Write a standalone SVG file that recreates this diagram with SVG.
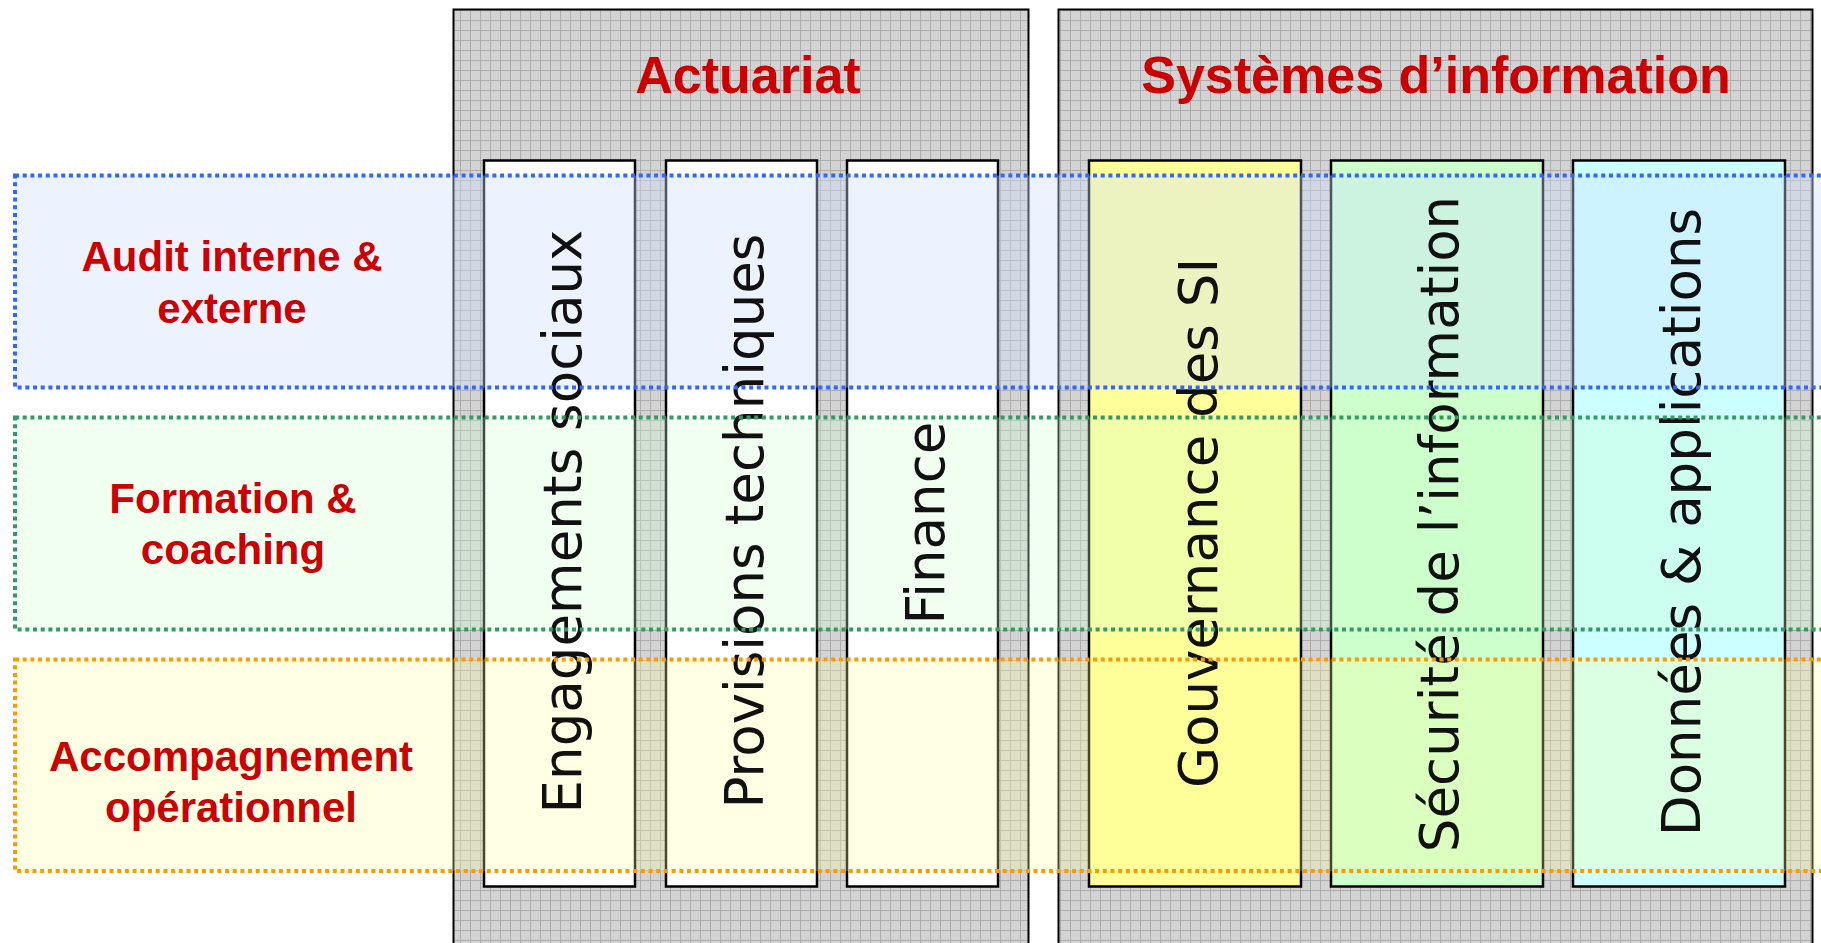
<svg xmlns="http://www.w3.org/2000/svg" width="1821" height="943" viewBox="0 0 1821 943">
  <defs>
    <pattern id="grid" x="0" y="0" width="10" height="10" patternUnits="userSpaceOnUse">
      <rect width="10" height="10" fill="#d3d3d3"/>
      <path d="M0 0.5H10M0.5 0V10" stroke="#adadad" stroke-width="1" fill="none"/>
    </pattern>
    <style>
      .panel { fill: url(#grid); stroke: #000; stroke-width: 2; }
      .col { stroke: #000; stroke-width: 2.5; }
      .heading { font-family: "Liberation Sans", Arial, sans-serif; font-weight: bold; font-size: 52px; fill: #cc0000; text-anchor: middle; }
      .vtext { font-family: "DejaVu Sans", Verdana, sans-serif; font-size: 53px; fill: #111; text-anchor: middle; }
      .bandfill { stroke: none; }
      .bandline { fill: none; stroke-width: 4; stroke-dasharray: 4 3.7; }
      .rowlabel { font-family: "Liberation Sans", Arial, sans-serif; font-weight: bold; font-size: 42px; fill: #cc0000; text-anchor: middle; }
    </style>
  </defs>

  <rect width="1821" height="943" fill="#fff"/>

  <g id="panel-actuariat">
    <rect class="panel" x="453.5" y="9.5" width="575" height="945"/>
    <text class="heading" x="748" y="93">Actuariat</text>
  </g>
  <g id="panel-si">
    <rect class="panel" x="1058.5" y="9.5" width="754" height="945"/>
    <text class="heading" x="1436" y="93">Systèmes d’information</text>
  </g>

  <g id="col-engagements">
    <rect class="col" x="484" y="160.5" width="151" height="726" fill="#fff"/>
  </g>
  <g id="col-provisions">
    <rect class="col" x="666" y="160.5" width="151" height="726" fill="#fff"/>
  </g>
  <g id="col-finance">
    <rect class="col" x="847" y="160.5" width="151" height="726" fill="#fff"/>
  </g>
  <g id="col-gouvernance">
    <rect class="col" x="1089" y="160.5" width="212" height="726" fill="#ffff99"/>
  </g>
  <g id="col-securite">
    <rect class="col" x="1331" y="160.5" width="212" height="726" fill="#ccffcc"/>
  </g>
  <g id="col-donnees">
    <rect class="col" x="1573" y="160.5" width="212" height="726" fill="#ccffff"/>
  </g>

  <g id="band-audit">
    <rect class="bandfill" x="15" y="175.5" width="1830" height="212" fill="#cce0ff" fill-opacity="0.38"/>
    <text class="rowlabel" x="232" y="271">Audit interne &amp;</text>
    <text class="rowlabel" x="232" y="323">externe</text>
  </g>
  <g id="band-formation">
    <rect class="bandfill" x="15" y="417.5" width="1830" height="212" fill="#ccffcc" fill-opacity="0.3"/>
    <text class="rowlabel" x="233" y="513">Formation &amp;</text>
    <text class="rowlabel" x="233" y="564">coaching</text>
  </g>
  <g id="band-accompagnement">
    <rect class="bandfill" x="15" y="659.5" width="1830" height="211.5" fill="#ffff99" fill-opacity="0.28"/>
    <text class="rowlabel" x="231" y="771">Accompagnement</text>
    <text class="rowlabel" x="231" y="822">opérationnel</text>
  </g>

  <g id="column-labels">
    <text class="vtext" transform="translate(581,521.5) rotate(-90)">Engagements sociaux</text>
    <text class="vtext" transform="translate(762.5,521) rotate(-90)">Provisions techniques</text>
    <text class="vtext" transform="translate(944,523) rotate(-90)">Finance</text>
    <text class="vtext" transform="translate(1216.5,523) rotate(-90)">Gouvernance des SI</text>
    <text class="vtext" transform="translate(1458,524) rotate(-90)">Sécurité de l’information</text>
    <text class="vtext" transform="translate(1700,522) rotate(-90)">Données &amp; applications</text>
  </g>

  <g id="band-outlines">
    <rect class="bandline" x="15" y="175.5" width="1830" height="212" stroke="#3366ff"/>
    <rect class="bandline" x="15" y="417.5" width="1830" height="212" stroke="#339966"/>
    <rect class="bandline" x="15" y="659.5" width="1830" height="211.5" stroke="#ff9900"/>
  </g>

  <g id="connectors"/>
</svg>
